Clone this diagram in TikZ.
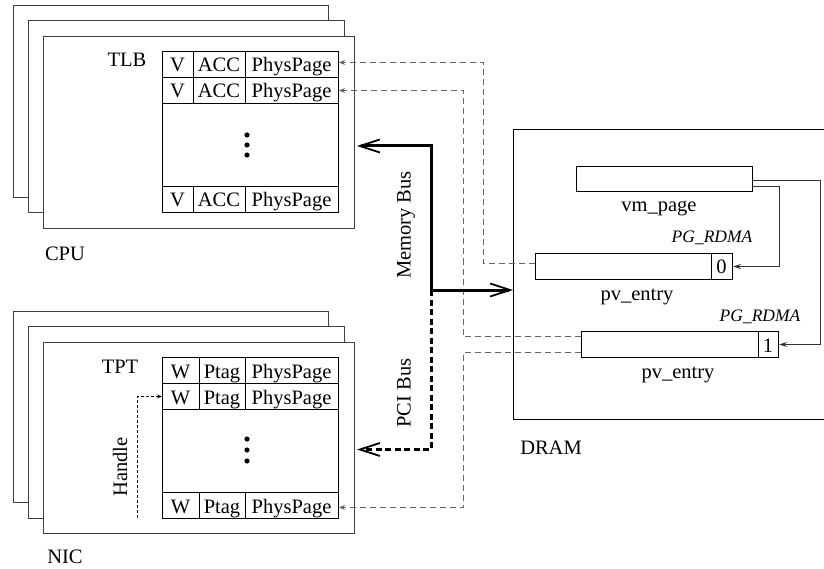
\documentclass[tikz,border=0pt]{standalone}
\usepackage{fontspec}
\setmainfont{Liberation Serif}
\usetikzlibrary{arrows.meta,calc}
\newcommand{\tabrow}[6]{%
  \node[rowbox] (#1) at (162,#2) {};
  \draw[tabline] (#3,#2) -- ++(0,26);
  \draw[tabline] (245,#2) -- ++(0,26);
  \node[celltxt] (#1a) at ({(162+#3)/2},{#2+21}) {#4};
  \node[celltxt] (#1b) at ({(#3+245)/2},{#2+21}) {#5};
  \node[celltxt] (#1c) at (291.5,{#2+21}) {#6};
}
\begin{document}
\begin{tikzpicture}[x=1pt,y=-1pt,
  font=\fontsize{20.5pt}{24pt}\selectfont,
  stackbox/.style={draw=black!75, line width=1pt, fill=white, anchor=north west, inner sep=0pt},
  rowbox/.style={draw=black, line width=1pt, anchor=north west, inner sep=0pt, minimum width=176pt, minimum height=26pt},
  tabline/.style={draw=black, line width=1pt},
  celltxt/.style={anchor=base, inner sep=0pt},
  lbl/.style={anchor=base, inner sep=0pt},
  smallit/.style={anchor=base, inner sep=0pt, font=\fontsize{17.5pt}{20pt}\selectfont\itshape},
  dline/.style={draw=black!60, line width=1pt, dash pattern=on 6pt off 4pt, -{Stealth[length=6pt,width=5pt]}},
  bus/.style={draw=black, line width=3pt, -{Straight Barb[length=20pt,width=13pt,line width=1.8pt]}},
  pcibus/.style={draw=black, line width=3pt, dash pattern=on 6pt off 3.5pt, -{Straight Barb[length=20pt,width=13pt,line width=1.8pt]}},
  solidarr/.style={draw=black!80, line width=1pt, -{Stealth[length=8pt,width=5pt]}},
  hdl/.style={draw=black, line width=0.9pt, dash pattern=on 3pt off 2pt, -{Stealth[length=5pt,width=4pt,open]}},
  pvbox/.style={draw=black, line width=1pt, anchor=north west, inner sep=0pt}
]
\useasboundingbox (0,0) rectangle (824,569);
\clip (0,0) rectangle (824,569);

% CPU stack
\node[stackbox, minimum width=315pt, minimum height=192pt] (cpu1) at (13,5) {};
\node[stackbox, minimum width=316pt, minimum height=192pt] (cpu2) at (28,20) {};
\node[stackbox, minimum width=311pt, minimum height=192pt] (cpu3) at (43,36) {};
\node[lbl] (tlblbl) at (127,67) {TLB};
\node[lbl] (cpulbl) at (65,261) {CPU};
\tabrow{tlb1}{51}{193}{V}{ACC}{PhysPage}
\tabrow{tlb2}{77}{193}{V}{ACC}{PhysPage}
\node[rowbox, minimum height=83pt] (tlbmid) at (162,103) {};
\tabrow{tlb3}{186}{193}{V}{ACC}{PhysPage}
\fill (247,135) circle (2.6pt) (247,145) circle (2.6pt) (247,155) circle (2.6pt);

% NIC stack
\node[stackbox, minimum width=315pt, minimum height=191pt] (nic1) at (13,311) {};
\node[stackbox, minimum width=316pt, minimum height=192pt] (nic2) at (28,326) {};
\node[stackbox, minimum width=311pt, minimum height=191pt] (nic3) at (43,342) {};
\node[lbl] (tptlbl) at (120,373) {TPT};
\node[lbl] (niclbl) at (65,563) {NIC};
\tabrow{tpt1}{357}{199}{W}{Ptag}{PhysPage}
\tabrow{tpt2}{383}{199}{W}{Ptag}{PhysPage}
\node[rowbox, minimum height=83pt] (tptmid) at (162,409) {};
\tabrow{tpt3}{492}{199}{W}{Ptag}{PhysPage}
\fill (247,439) circle (2.6pt) (247,450) circle (2.6pt) (247,461) circle (2.6pt);

% Handle
\coordinate (hstart) at (137,518);
\draw[hdl] (hstart) |- (tpt2.west);
\node[rotate=90, inner sep=0pt] (handlelbl) at (120,467) {Handle};

% DRAM
\node[pvbox, minimum width=330pt, minimum height=290pt] (dram) at (513,129) {};
\node[lbl] (dramlbl) at (551,454) {DRAM};
\node[pvbox, minimum width=176pt, minimum height=25pt] (vm) at (576,166) {};
\node[lbl] (vmlbl) at (659,212) {vm\_page};
\node[pvbox, minimum width=197pt, minimum height=26pt] (pv1) at (535,253) {};
\draw[tabline] (711,253) -- ++(0,26);
\node[lbl] (pv1bit) at (721.5,273) {0};
\node[lbl] (pv1lbl) at (637,300) {pv\_entry};
\node[smallit] (rdma1) at (712,243) {PG\_RDMA};
\node[pvbox, minimum width=197pt, minimum height=26pt] (pv2) at (581,331) {};
\draw[tabline] (758,331) -- ++(0,26);
\node[lbl] (pv2bit) at (768,352) {1};
\node[lbl] (pv2lbl) at (678,378) {pv\_entry};
\node[smallit] (rdma2) at (760,321) {PG\_RDMA};

% vm_page -> pv_entry
\draw[solidarr] ($(vm.east)+(0,1.5)$) -- ++(67,0) |- (pv2.east);
\draw[solidarr] ($(vm.east)+(0,7.5)$) -- ++(26,0) |- (pv1.east);

% pv_entry -> TLB / TPT
\draw[dline] ($(pv1.west)+(0,-3)$) -- ++(-52,0) |- ($(tlb1.east)+(0,-2)$);
\draw[dline] ($(pv2.west)+(0,-8)$) -- ++(-118,0) |- (tlb2.east);
\draw[dline] ($(pv2.west)+(0,8)$) -- ++(-118,0) |- ($(tpt3.east)+(0,2)$);

% buses
\coordinate (busj) at (431,290);
\draw[bus] (busj) |- ($(cpu3.east)+(2,13.5)$);
\draw[bus] (busj) -- (dram.west |- busj);
\draw[pcibus] (busj) |- ($(nic3.east)+(2,11.5)$);
\node[rotate=90, inner sep=0pt] (memlbl) at (406,225) {Memory Bus};
\node[rotate=90, inner sep=0pt] (pcilbl) at (404,393) {PCI Bus};
\end{tikzpicture}
\end{document}
